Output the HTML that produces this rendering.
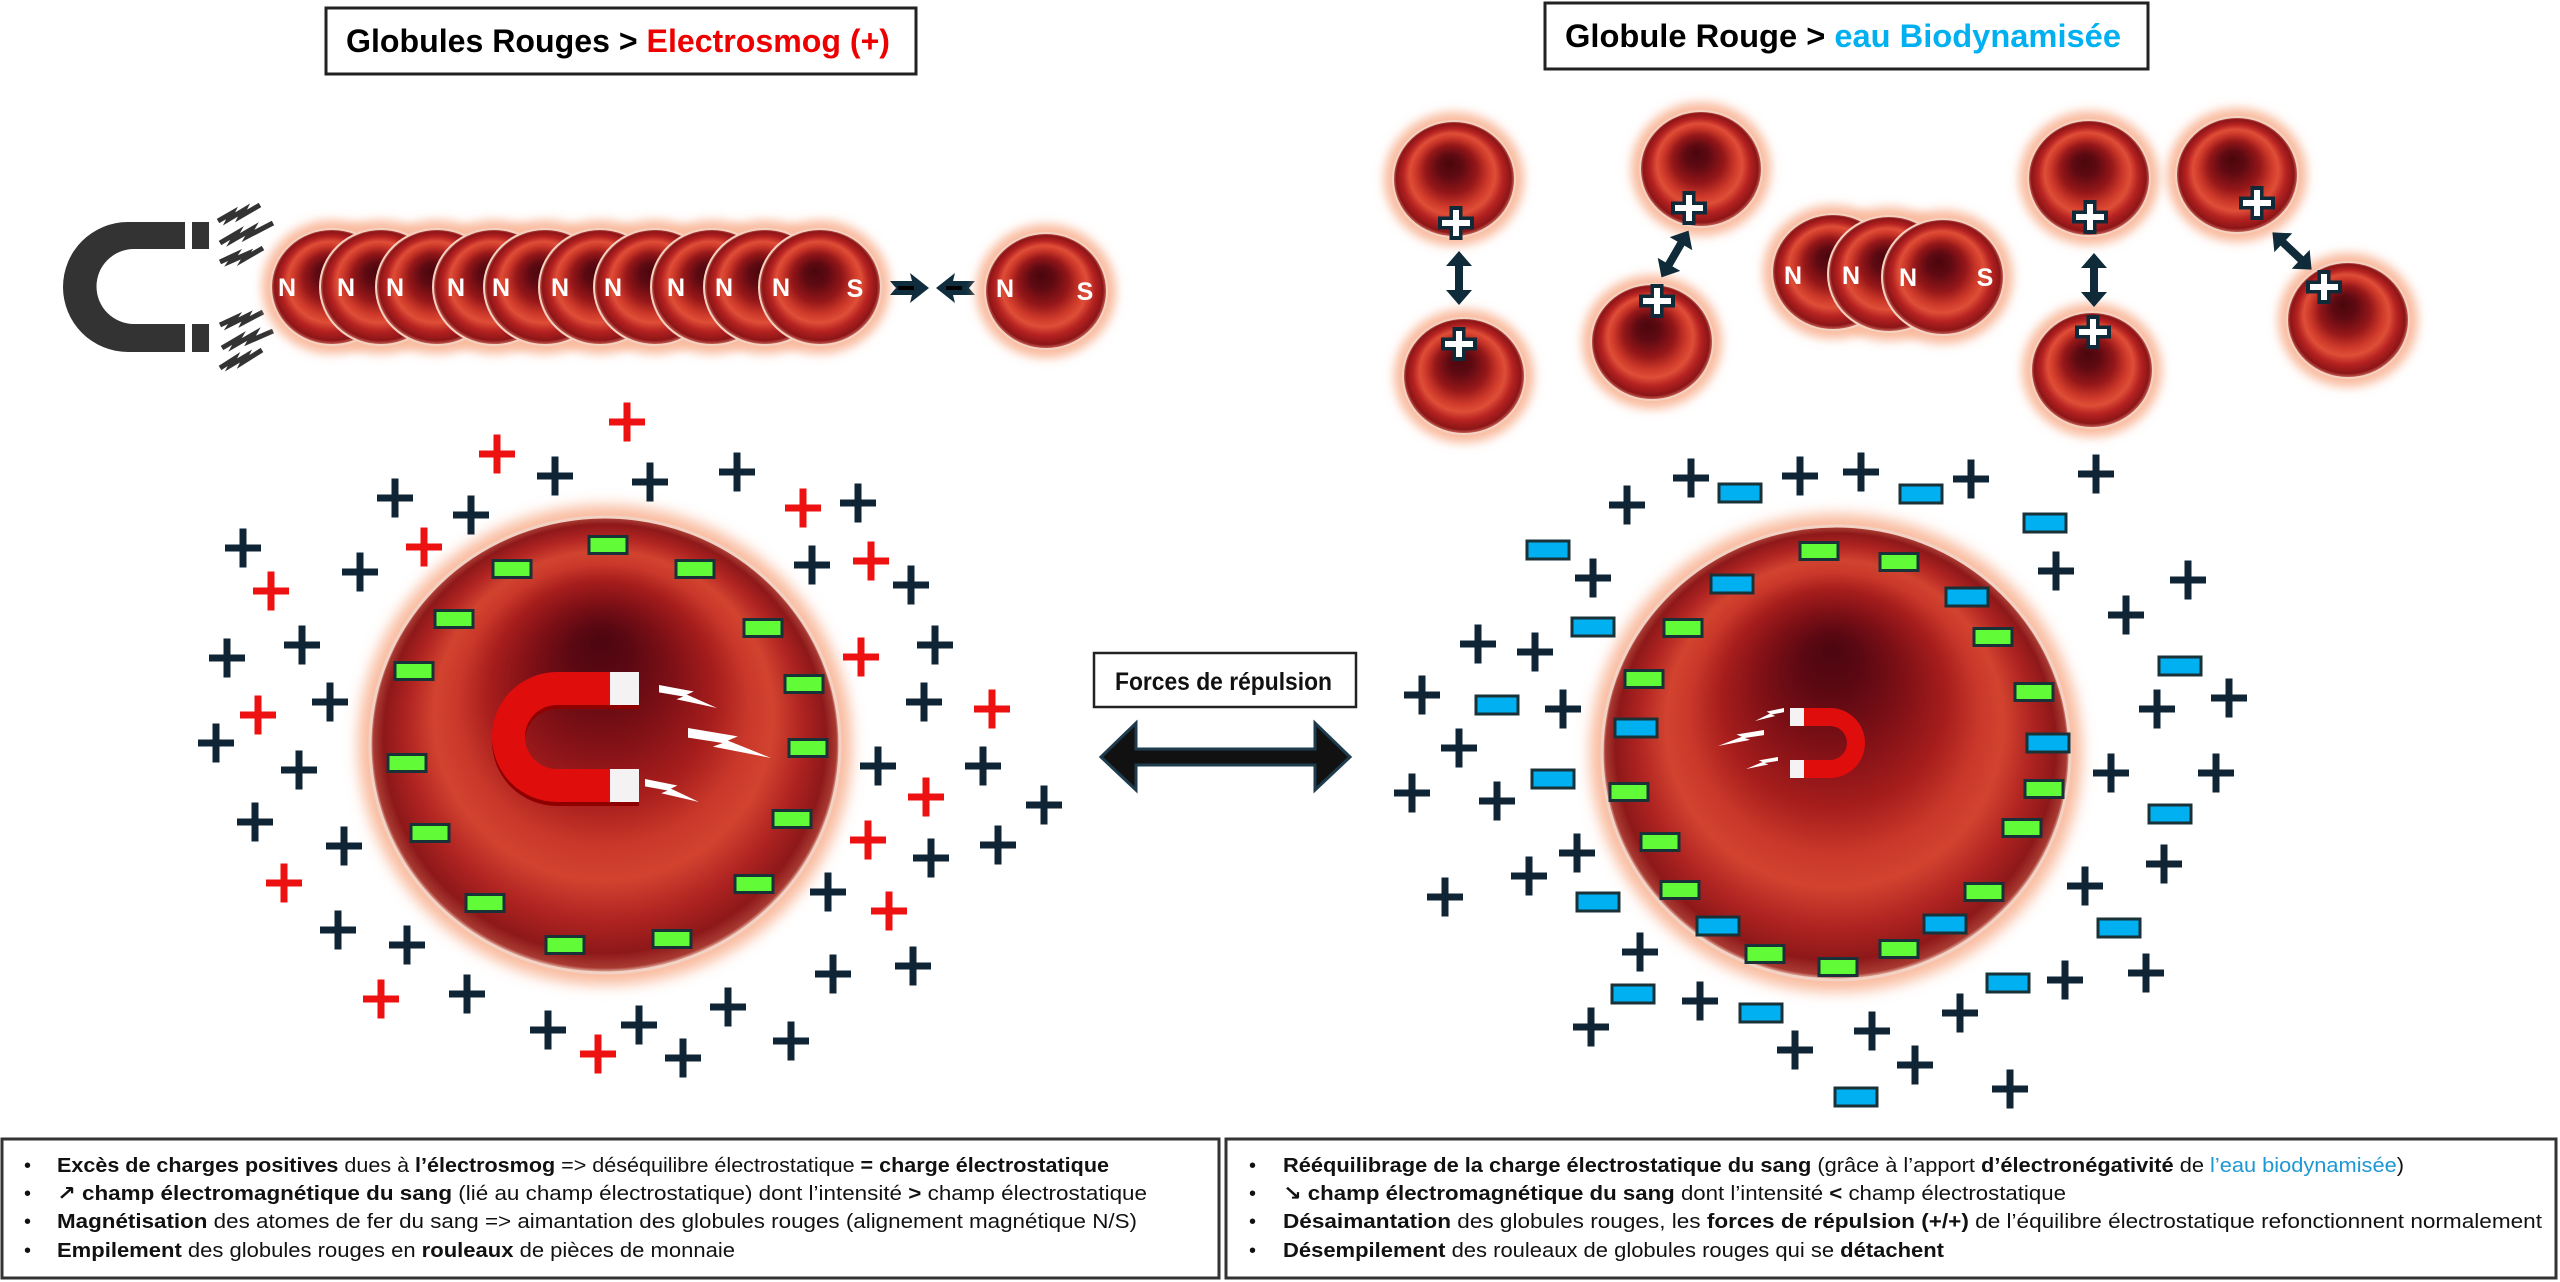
<!DOCTYPE html>
<html><head><meta charset="utf-8"><style>
html,body{margin:0;padding:0;background:#fff;}
svg{display:block;}
text{font-family:"Liberation Sans","DejaVu Sans",sans-serif;}
</style></head><body>
<svg width="2560" height="1282" viewBox="0 0 2560 1282" xmlns="http://www.w3.org/2000/svg">
<defs>
<radialGradient id="gs" cx="0.5" cy="0.5" r="0.5" fx="0.46" fy="0.36">
<stop offset="0" stop-color="#4a060c"/><stop offset="0.2" stop-color="#5f0a12"/><stop offset="0.42" stop-color="#951719"/><stop offset="0.6" stop-color="#cf3a2a"/><stop offset="0.7" stop-color="#df4e37"/><stop offset="0.82" stop-color="#b52221"/><stop offset="0.94" stop-color="#8c1517"/><stop offset="1" stop-color="#d07060"/>
</radialGradient>
<radialGradient id="gb" cx="0.5" cy="0.5" r="0.5" fx="0.49" fy="0.27">
<stop offset="0" stop-color="#4c0610"/><stop offset="0.12" stop-color="#5a0812"/><stop offset="0.3" stop-color="#7e1016"/><stop offset="0.48" stop-color="#a61d1c"/><stop offset="0.62" stop-color="#c9382a"/><stop offset="0.72" stop-color="#d2432f"/><stop offset="0.84" stop-color="#b02422"/><stop offset="0.94" stop-color="#8e1819"/><stop offset="0.985" stop-color="#a83a32"/><stop offset="1" stop-color="#f2cdbd"/>
</radialGradient>
<filter id="bl" x="-40%" y="-40%" width="180%" height="180%"><feGaussianBlur stdDeviation="5"/></filter>
<filter id="bl2" x="-20%" y="-20%" width="140%" height="140%"><feGaussianBlur stdDeviation="7"/></filter>
<g id="pd"><rect x="-18" y="-3.5" width="36" height="7"/><rect x="-3.5" y="-19.5" width="7" height="39"/></g>
<rect id="gm" x="-19" y="-8.5" width="38" height="17" fill="#62fb38" stroke="#183238" stroke-width="3"/>
<rect id="bm" x="-21" y="-9" width="42" height="18" fill="#00b0f0" stroke="#183238" stroke-width="3"/>
<g id="po"><path d="M-18,0H18M0,-17V17" stroke="#0f2a38" stroke-width="13" fill="none"/><path d="M-14,0H14M0,-13V13" stroke="#fff" stroke-width="6" fill="none"/></g>
<polygon id="da" points="-27,0 -12,-13 -12,-4 12,-4 12,-13 27,0 12,13 12,4 -12,4 -12,13" fill="#0f2a38"/>
<polygon id="bolt" points="0,0 0.6,0.28 0.48,0.42 1,1 0.3,0.62 0.42,0.5 0,0.32"/>
<g id="cg"><ellipse cx="0" cy="0" rx="70" ry="67" fill="#f9bb9f" filter="url(#bl)"/></g>
<g id="cb"><ellipse cx="0" cy="0" rx="61" ry="58" fill="url(#gs)" stroke="#f4d2c2" stroke-width="2"/></g>
</defs>

<!-- Titles -->
<rect x="326" y="8" width="590" height="66" fill="#fff" stroke="#222" stroke-width="3"/>
<text x="346" y="52" font-size="32" font-weight="bold" textLength="544" lengthAdjust="spacingAndGlyphs">Globules Rouges &gt; <tspan fill="#ee0000">Electrosmog (+)</tspan></text>
<rect x="1545" y="3" width="603" height="66" fill="#fff" stroke="#222" stroke-width="3"/>
<text x="1565" y="47" font-size="32" font-weight="bold" textLength="556" lengthAdjust="spacingAndGlyphs">Globule Rouge &gt; <tspan fill="#00b0f0">eau Biodynamisée</tspan></text>

<!-- Top-left magnet -->
<path d="M185,222 H128 A65,65 0 0 0 128,352 H185 V324 H134 A37.5,37.5 0 0 1 134,249 H185 Z" fill="#333"/>
<rect x="192" y="222" width="17" height="27" fill="#333"/>
<rect x="192" y="324" width="17" height="28" fill="#333"/>
<g fill="none" stroke="#333" stroke-width="5" stroke-linejoin="miter">
<polyline points="218,221 232,213 229,219 244,210 241,216 260,205"/>
<polyline points="220,243 237,233 233,240 252,229 248,236 273,223"/>
<polyline points="220,262 235,255 231,261 247,254 244,259 263,248"/>
<polyline points="220,325 235,318 231,324 247,316 244,322 263,312"/>
<polyline points="222,348 239,338 235,345 254,334 250,341 273,331"/>
<polyline points="220,368 234,359 231,365 246,356 243,362 262,350"/>
</g>

<!-- Stack left -->
<g>
<use href="#cg" transform="translate(332,287)"/><use href="#cg" transform="translate(381,287)"/><use href="#cg" transform="translate(437,287)"/><use href="#cg" transform="translate(494,287)"/><use href="#cg" transform="translate(545,287)"/><use href="#cg" transform="translate(600,287)"/><use href="#cg" transform="translate(655,287)"/><use href="#cg" transform="translate(712,287)"/><use href="#cg" transform="translate(765,287)"/><use href="#cg" transform="translate(820,287)"/>
<use href="#cb" transform="translate(332,287)"/><use href="#cb" transform="translate(381,287)"/><use href="#cb" transform="translate(437,287)"/><use href="#cb" transform="translate(494,287)"/><use href="#cb" transform="translate(545,287)"/><use href="#cb" transform="translate(600,287)"/><use href="#cb" transform="translate(655,287)"/><use href="#cb" transform="translate(712,287)"/><use href="#cb" transform="translate(765,287)"/><use href="#cb" transform="translate(820,287)"/>
</g>
<g font-size="25" font-weight="bold" fill="#fff" text-anchor="middle">
<text x="287" y="296">N</text><text x="346" y="296">N</text><text x="395" y="296">N</text><text x="456" y="296">N</text><text x="501" y="296">N</text><text x="560" y="296">N</text><text x="613" y="296">N</text><text x="676" y="296">N</text><text x="724" y="296">N</text><text x="781" y="296">N</text><text x="855" y="297">S</text>
</g>
<polygon points="890,281 912,281 910,273 929,288 910,303 912,295 890,295 896,288" fill="#0f2d3d"/>
<rect x="898" y="286" width="16" height="4" fill="#000"/>
<polygon points="975,281 953,281 955,273 936,288 955,303 953,295 975,295 969,288" fill="#0f2d3d"/>
<rect x="946" y="286" width="16" height="4" fill="#000"/>
<use href="#cg" transform="translate(1046,291)"/><use href="#cb" transform="translate(1046,291)"/>
<g font-size="25" font-weight="bold" fill="#fff" text-anchor="middle"><text x="1005" y="297">N</text><text x="1085" y="300">S</text></g>

<!-- Top right cells -->
<use href="#cg" transform="translate(1454,179)"/><use href="#cb" transform="translate(1454,179)"/>
<use href="#cg" transform="translate(1464,376)"/><use href="#cb" transform="translate(1464,376)"/>
<use href="#cg" transform="translate(1701,169)"/><use href="#cb" transform="translate(1701,169)"/>
<use href="#cg" transform="translate(1652,342)"/><use href="#cb" transform="translate(1652,342)"/>
<use href="#cg" transform="translate(1833,272)"/><use href="#cg" transform="translate(1889,274)"/><use href="#cg" transform="translate(1943,277)"/>
<use href="#cb" transform="translate(1833,272)"/><use href="#cb" transform="translate(1889,274)"/><use href="#cb" transform="translate(1943,277)"/>
<use href="#cg" transform="translate(2089,178)"/><use href="#cb" transform="translate(2089,178)"/>
<use href="#cg" transform="translate(2092,370)"/><use href="#cb" transform="translate(2092,370)"/>
<use href="#cg" transform="translate(2237,175)"/><use href="#cb" transform="translate(2237,175)"/>
<use href="#cg" transform="translate(2348,320)"/><use href="#cb" transform="translate(2348,320)"/>
<g font-size="25" font-weight="bold" fill="#fff" text-anchor="middle">
<text x="1793" y="284">N</text><text x="1851" y="284">N</text><text x="1908" y="286">N</text><text x="1985" y="286">S</text>
</g>
<use href="#po" transform="translate(1456,223)"/><use href="#po" transform="translate(1459,344)"/>
<use href="#po" transform="translate(1689,208)"/><use href="#po" transform="translate(1657,301)"/>
<use href="#po" transform="translate(2090,217)"/><use href="#po" transform="translate(2093,332)"/>
<use href="#po" transform="translate(2257,203)"/><use href="#po" transform="translate(2324,287)"/>
<use href="#da" transform="translate(1459,278) rotate(90)"/>
<use href="#da" transform="translate(1675,254) rotate(120)"/>
<use href="#da" transform="translate(2094,280) rotate(90)"/>
<use href="#da" transform="translate(2292,251) rotate(43.5)"/>

<!-- Big left cell -->
<ellipse cx="605" cy="745" rx="247" ry="240" fill="#f9bb9f" filter="url(#bl2)"/>
<ellipse cx="605" cy="745" rx="235" ry="228" fill="url(#gb)" stroke="#f2d2c4" stroke-width="3"/>
<path d="M639,676 H557 A65,65 0 0 0 557,806 H639 V773 H557 A32,32 0 0 1 557,709 H639 Z" fill="#8e0000"/>
<path d="M639,672 H557 A65,65 0 0 0 557,802 H639 V769 H557 A32,32 0 0 1 557,705 H639 Z" fill="#e00d0d"/>
<rect x="610" y="672" width="29" height="33" fill="#f4f2f2"/>
<rect x="610" y="769" width="29" height="33" fill="#f4f2f2"/>
<g fill="#fff">
<use href="#bolt" transform="translate(659,685) scale(58,23)"/>
<use href="#bolt" transform="translate(688,728) scale(83,30)"/>
<use href="#bolt" transform="translate(645,779) scale(54,23)"/>
</g>

<!-- Big right cell -->
<ellipse cx="1836" cy="753" rx="246" ry="239" fill="#f9bb9f" filter="url(#bl2)"/>
<ellipse cx="1836" cy="753" rx="234" ry="227" fill="url(#gb)" stroke="#f2d2c4" stroke-width="3"/>
<path d="M1790,708 H1830 A35,35 0 0 1 1830,778 H1790 V760 H1830 A17,17 0 0 0 1830,726 H1790 Z" fill="#e00d0d"/>
<rect x="1790" y="708" width="14" height="18" fill="#f4f2f2"/>
<rect x="1790" y="760" width="14" height="18" fill="#f4f2f2"/>
<g fill="#fff">
<use href="#bolt" transform="translate(1784,708) scale(-29,13)"/>
<use href="#bolt" transform="translate(1764,730) scale(-46,16)"/>
<use href="#bolt" transform="translate(1778,757) scale(-32,12)"/>
</g>

<!-- Left charges -->
<g fill="#ee1111">
<use href="#pd" x="627" y="422"/><use href="#pd" x="497" y="454"/><use href="#pd" x="803" y="508"/><use href="#pd" x="424" y="547"/><use href="#pd" x="871" y="561"/><use href="#pd" x="271" y="591"/><use href="#pd" x="861" y="657"/><use href="#pd" x="992" y="709"/><use href="#pd" x="258" y="715"/><use href="#pd" x="926" y="797"/><use href="#pd" x="868" y="840"/><use href="#pd" x="284" y="883"/><use href="#pd" x="889" y="911"/><use href="#pd" x="381" y="999"/><use href="#pd" x="598" y="1054"/>
</g>
<g fill="#0f2535">
<use href="#pd" x="555" y="476"/><use href="#pd" x="650" y="482"/><use href="#pd" x="737" y="472"/><use href="#pd" x="395" y="498"/><use href="#pd" x="471" y="515"/><use href="#pd" x="858" y="503"/><use href="#pd" x="243" y="548"/><use href="#pd" x="360" y="572"/><use href="#pd" x="812" y="565"/><use href="#pd" x="911" y="585"/><use href="#pd" x="227" y="658"/><use href="#pd" x="302" y="645"/><use href="#pd" x="935" y="645"/><use href="#pd" x="330" y="702"/><use href="#pd" x="924" y="702"/><use href="#pd" x="216" y="743"/><use href="#pd" x="299" y="770"/><use href="#pd" x="878" y="766"/><use href="#pd" x="983" y="766"/><use href="#pd" x="1044" y="805"/><use href="#pd" x="255" y="822"/><use href="#pd" x="344" y="846"/><use href="#pd" x="998" y="845"/><use href="#pd" x="931" y="858"/><use href="#pd" x="828" y="892"/><use href="#pd" x="338" y="930"/><use href="#pd" x="407" y="945"/><use href="#pd" x="833" y="974"/><use href="#pd" x="913" y="966"/><use href="#pd" x="467" y="994"/><use href="#pd" x="728" y="1007"/><use href="#pd" x="548" y="1030"/><use href="#pd" x="639" y="1025"/><use href="#pd" x="683" y="1058"/><use href="#pd" x="791" y="1041"/>
</g>
<g>
<use href="#gm" x="608" y="545"/><use href="#gm" x="512" y="569"/><use href="#gm" x="695" y="569"/><use href="#gm" x="454" y="619"/><use href="#gm" x="763" y="628"/><use href="#gm" x="414" y="671"/><use href="#gm" x="804" y="684"/><use href="#gm" x="407" y="763"/><use href="#gm" x="808" y="748"/><use href="#gm" x="430" y="833"/><use href="#gm" x="792" y="819"/><use href="#gm" x="485" y="903"/><use href="#gm" x="754" y="884"/><use href="#gm" x="565" y="945"/><use href="#gm" x="672" y="939"/>
</g>

<!-- Right charges -->
<g>
<use href="#gm" x="1819" y="551"/><use href="#gm" x="1899" y="562"/><use href="#gm" x="1683" y="628"/><use href="#gm" x="1993" y="637"/><use href="#gm" x="1644" y="679"/><use href="#gm" x="2034" y="692"/><use href="#gm" x="1629" y="792"/><use href="#gm" x="2044" y="789"/><use href="#gm" x="2022" y="828"/><use href="#gm" x="1660" y="842"/><use href="#gm" x="1680" y="890"/><use href="#gm" x="1984" y="892"/><use href="#gm" x="1765" y="954"/><use href="#gm" x="1838" y="967"/><use href="#gm" x="1899" y="949"/>
<use href="#bm" x="1732" y="584"/><use href="#bm" x="1967" y="597"/><use href="#bm" x="1636" y="728"/><use href="#bm" x="2048" y="743"/><use href="#bm" x="1718" y="926"/><use href="#bm" x="1945" y="924"/>
<use href="#bm" x="1740" y="493"/><use href="#bm" x="1921" y="494"/><use href="#bm" x="1548" y="550"/><use href="#bm" x="2045" y="523"/><use href="#bm" x="1593" y="627"/><use href="#bm" x="1497" y="705"/><use href="#bm" x="2180" y="666"/><use href="#bm" x="1553" y="779"/><use href="#bm" x="2170" y="814"/><use href="#bm" x="1598" y="902"/><use href="#bm" x="2119" y="928"/><use href="#bm" x="1633" y="994"/><use href="#bm" x="2008" y="983"/><use href="#bm" x="1761" y="1013"/><use href="#bm" x="1856" y="1097"/>
</g>
<g fill="#0f2535">
<use href="#pd" x="1691" y="478"/><use href="#pd" x="1800" y="476"/><use href="#pd" x="1861" y="472"/><use href="#pd" x="1971" y="479"/><use href="#pd" x="1627" y="505"/><use href="#pd" x="2096" y="474"/><use href="#pd" x="1593" y="578"/><use href="#pd" x="2056" y="571"/><use href="#pd" x="2188" y="580"/><use href="#pd" x="2126" y="615"/><use href="#pd" x="1478" y="644"/><use href="#pd" x="1535" y="652"/><use href="#pd" x="1422" y="695"/><use href="#pd" x="1563" y="709"/><use href="#pd" x="2157" y="709"/><use href="#pd" x="2229" y="698"/><use href="#pd" x="1459" y="748"/><use href="#pd" x="1412" y="793"/><use href="#pd" x="1497" y="801"/><use href="#pd" x="2111" y="773"/><use href="#pd" x="2216" y="773"/><use href="#pd" x="1577" y="853"/><use href="#pd" x="1529" y="876"/><use href="#pd" x="1445" y="897"/><use href="#pd" x="2164" y="864"/><use href="#pd" x="2085" y="886"/><use href="#pd" x="1640" y="952"/><use href="#pd" x="2065" y="980"/><use href="#pd" x="2146" y="973"/><use href="#pd" x="1700" y="1001"/><use href="#pd" x="1591" y="1027"/><use href="#pd" x="1960" y="1013"/><use href="#pd" x="1872" y="1031"/><use href="#pd" x="1795" y="1050"/><use href="#pd" x="1915" y="1065"/><use href="#pd" x="2010" y="1089"/>
</g>

<!-- Middle -->
<rect x="1094" y="653" width="262" height="54" fill="#fff" stroke="#222" stroke-width="2.5"/>
<text x="1115" y="690" font-size="25" font-weight="bold" fill="#111" textLength="217" lengthAdjust="spacingAndGlyphs">Forces de répulsion</text>
<polygon points="1101,757 1136,723 1136,749 1315,749 1315,723 1350,757 1315,790 1315,765 1136,765 1136,790" fill="#111" stroke="#1e3c4e" stroke-width="3"/>

<!-- Bottom boxes -->
<rect x="2" y="1139" width="1217" height="139" fill="#fff" stroke="#333" stroke-width="3"/>
<rect x="1226" y="1139" width="1330" height="139" fill="#fff" stroke="#333" stroke-width="3"/>
<g font-size="20" fill="#111">
<text x="24" y="1172">•</text><text x="24" y="1200">•</text><text x="24" y="1228">•</text><text x="24" y="1257">•</text>
<text x="1249" y="1172">•</text><text x="1249" y="1200">•</text><text x="1249" y="1228">•</text><text x="1249" y="1257">•</text>
<text x="57" y="1172" textLength="1052" lengthAdjust="spacingAndGlyphs"><tspan font-weight="bold">Excès de charges positives</tspan> dues à <tspan font-weight="bold">l’électrosmog</tspan> =&gt; déséquilibre électrostatique <tspan font-weight="bold">= charge électrostatique</tspan></text>
<text x="57" y="1200" textLength="1090" lengthAdjust="spacingAndGlyphs"><tspan font-weight="bold">↗ champ électromagnétique du sang</tspan> (lié au champ électrostatique) dont l’intensité <tspan font-weight="bold">&gt;</tspan> champ électrostatique</text>
<text x="57" y="1228" textLength="1080" lengthAdjust="spacingAndGlyphs"><tspan font-weight="bold">Magnétisation</tspan> des atomes de fer du sang =&gt; aimantation des globules rouges (alignement magnétique N/S)</text>
<text x="57" y="1257" textLength="678" lengthAdjust="spacingAndGlyphs"><tspan font-weight="bold">Empilement</tspan> des globules rouges en <tspan font-weight="bold">rouleaux</tspan> de pièces de monnaie</text>
<text x="1283" y="1172" textLength="1121" lengthAdjust="spacingAndGlyphs"><tspan font-weight="bold">Rééquilibrage de la charge électrostatique du sang</tspan> (grâce à l’apport <tspan font-weight="bold">d’électronégativité</tspan> de <tspan fill="#1f97d4">l’eau biodynamisée</tspan>)</text>
<text x="1283" y="1200" textLength="783" lengthAdjust="spacingAndGlyphs"><tspan font-weight="bold">↘ champ électromagnétique du sang</tspan> dont l’intensité <tspan font-weight="bold">&lt;</tspan> champ électrostatique</text>
<text x="1283" y="1228" textLength="1259" lengthAdjust="spacingAndGlyphs"><tspan font-weight="bold">Désaimantation</tspan> des globules rouges, les <tspan font-weight="bold">forces de répulsion (+/+)</tspan> de l’équilibre électrostatique refonctionnent normalement</text>
<text x="1283" y="1257" textLength="661" lengthAdjust="spacingAndGlyphs"><tspan font-weight="bold">Désempilement</tspan> des rouleaux de globules rouges qui se <tspan font-weight="bold">détachent</tspan></text>
</g>
</svg>
</body></html>
